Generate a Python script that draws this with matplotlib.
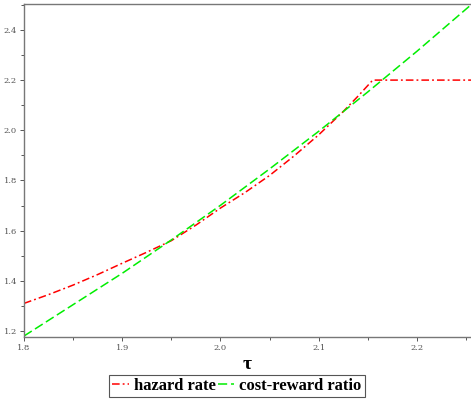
import matplotlib
import numpy as np
import matplotlib.pyplot as plt
from matplotlib.ticker import MultipleLocator

matplotlib.use('Agg')

# tau grid and the two curves
tau_green = [1.80, 1.85, 1.90, 1.95, 2.00, 2.05, 2.10, 2.15, 2.20, 2.255]
cost_reward = [1.180, 1.305, 1.430, 1.563, 1.701, 1.846, 1.996, 2.153, 2.315, 2.500]

tau_red = [1.80, 1.825, 1.85, 1.875, 1.90, 1.925, 1.95, 1.975, 2.00, 2.025, 2.05, 2.075, 2.10, 2.125, 2.14, 2.155, 2.255]
hazard = [1.310, 1.345, 1.383, 1.425, 1.470, 1.514, 1.560, 1.622, 1.690, 1.752, 1.820, 1.898, 1.982, 2.075, 2.136, 2.200, 2.200]

fig = plt.figure(figsize=(4.71, 3.99), dpi=100)
ax = fig.add_axes([0.051, 0.1554, 0.949, 0.835])

ax.plot(tau_red, hazard, color='#ff0000', lw=1.1, dashes=[5, 2, 1.2, 2], label='hazard rate')
ax.plot(tau_green, cost_reward, color='#00ee00', lw=1.1, dashes=[6, 2.5], label='cost-reward ratio')

ax.set_xlim(1.8, 2.255)
ax.set_ylim(1.176, 2.504)
ax.xaxis.set_major_locator(MultipleLocator(0.1))
ax.xaxis.set_minor_locator(MultipleLocator(0.05))
ax.yaxis.set_major_locator(MultipleLocator(0.2))
ax.yaxis.set_minor_locator(MultipleLocator(0.1))
ax.xaxis.set_major_formatter(lambda v, p: f'{v:.1f}')
ax.yaxis.set_major_formatter(lambda v, p: f'{v:.1f}')

for s in ['left', 'bottom', 'top']:
    ax.spines[s].set_color('#777777')
    ax.spines[s].set_linewidth(1.0)
ax.spines['right'].set_visible(False)

ax.tick_params(which='both', direction='out', colors='#555555', labelsize=6,
               labelfontfamily='DejaVu Serif')
ax.tick_params(which='major', length=3, width=0.7, pad=2)
ax.tick_params(which='minor', length=2, width=0.7)

ax.set_xlabel('τ', fontsize=14, fontweight='bold', family='Liberation Serif', labelpad=3)

leg = fig.legend(loc='lower center', bbox_to_anchor=(0.503, 0.0), ncol=2,
                 prop={'family': 'Liberation Serif', 'weight': 'bold', 'size': 12},
                 handlelength=1.0, handletextpad=0.3, columnspacing=0.1,
                 borderpad=0.2, fancybox=False, framealpha=1, borderaxespad=0.1)
leg.get_frame().set_edgecolor('#555555')
leg.get_frame().set_linewidth(0.8)

fig.savefig('out.png', dpi=100)
